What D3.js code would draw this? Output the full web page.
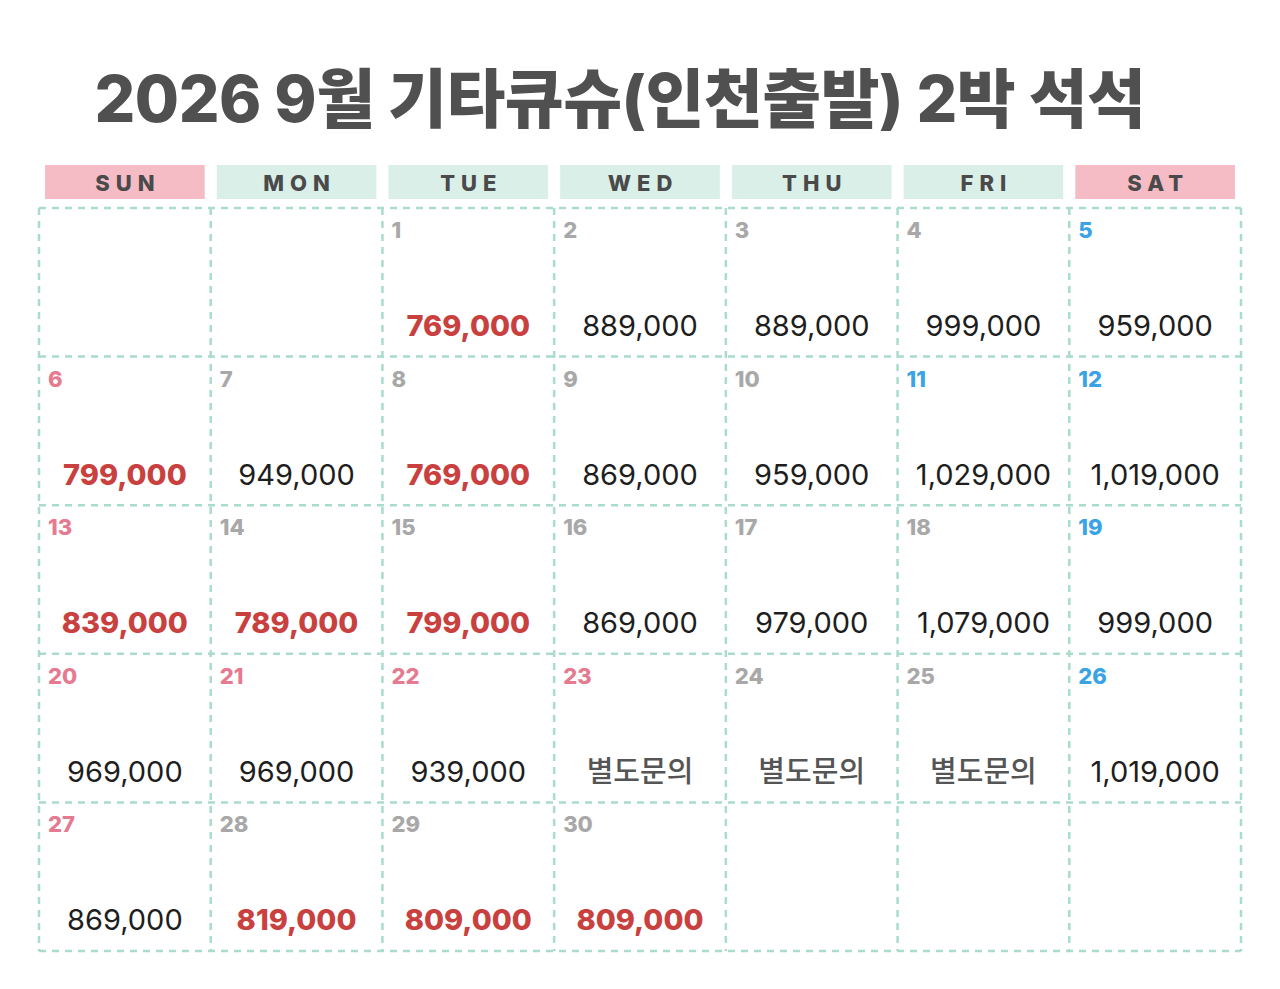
<!DOCTYPE html>
<html><head><meta charset="utf-8">
<script src="https://cdn.jsdelivr.net/npm/d3@7"></script>
<style>body{margin:0;background:#fff}</style>
</head><body><svg width="1280" height="989"></svg>
<script>
const title = '2026 9월 기타큐슈(인천출발) 2박 석석';
const weekdays = ['SUN','MON','TUE','WED','THU','FRI','SAT'];
const firstWeekday = 2;
const days = d3.range(1, 31);
// price text per day (1..30)
const prices = ['769,000','889,000','889,000','999,000','959,000',
  '799,000','949,000','769,000','869,000','959,000','1,029,000','1,019,000',
  '839,000','789,000','799,000','869,000','979,000','1,079,000','999,000',
  '969,000','969,000','939,000','별도문의','별도문의','별도문의','1,019,000',
  '869,000','819,000','809,000','809,000'];
const redDays = [1,6,8,13,14,15,28,29,30];
const pinkNums = [6,13,20,21,22,23,27];
const blueNums = [5,11,12,19,26];

const svg = d3.select('svg');
const x = d3.scaleBand().domain(d3.range(7)).range([39, 1241]);
const y = d3.scaleBand().domain(d3.range(5)).range([208, 951]);
const grid = '#a9dccb';

svg.append('text').attr('x', 620).attr('y', 122).attr('text-anchor', 'middle')
  .attr('font-family', 'Inter, Roboto, "Noto Sans CJK KR"').attr('font-weight', 800)
  .attr('font-size', 64).attr('fill', '#505050').attr('letter-spacing', -0.5).text(title);

const head = svg.append('g');
head.selectAll('rect').data(weekdays).join('rect')
  .attr('x', (d, i) => x(i) + 6).attr('y', 165)
  .attr('width', x.bandwidth() - 12).attr('height', 34)
  .attr('fill', (d, i) => (i === 0 || i === 6) ? '#f5bcc6' : '#d9efe8');
head.selectAll('text').data(weekdays).join('text')
  .attr('x', (d, i) => x(i) + x.bandwidth() / 2 + 3).attr('y', 191)
  .attr('text-anchor', 'middle').attr('font-family', 'Inter, sans-serif')
  .attr('font-weight', 800).attr('font-size', 22).attr('letter-spacing', 6)
  .attr('fill', '#4a4a4a').text(d => d);

// dashed grid
const g = svg.append('g').attr('stroke', grid).attr('stroke-width', 2.5)
  .attr('stroke-dasharray', '7,6');
d3.range(8).forEach(i => {
  const xx = i < 7 ? x(i) : x.range()[1];
  g.append('line').attr('x1', xx).attr('x2', xx).attr('y1', 208).attr('y2', 951);
});
d3.range(6).forEach(j => {
  const yy = j < 5 ? y(j) : y.range()[1];
  g.append('line').attr('x1', 39).attr('x2', 1241).attr('y1', yy).attr('y2', yy);
});

const cells = svg.append('g').selectAll('g').data(days).join('g')
  .attr('transform', d => {
    const k = d - 1 + firstWeekday;
    return `translate(${x(k % 7)},${y(Math.floor(k / 7))})`;
  });
cells.append('text').attr('x', 9).attr('y', 30)
  .attr('font-family', 'Inter, sans-serif').attr('font-weight', 800).attr('font-size', 22)
  .attr('fill', d => pinkNums.includes(d) ? '#e57a90' : blueNums.includes(d) ? '#3aa3e6' : '#a8a8a8')
  .text(d => d);
cells.append('text').attr('x', x.bandwidth() / 2).attr('y', 128)
  .attr('text-anchor', 'middle').attr('font-family', 'Inter, "Noto Sans CJK KR", sans-serif')
  .attr('font-size', 29)
  .attr('font-weight', d => redDays.includes(d) ? 800 : prices[d - 1].includes(',') ? 400 : 500)
  .attr('fill', d => redDays.includes(d) ? '#c9413f' : prices[d - 1].includes(',') ? '#1e1e1e' : '#555')
  .text(d => prices[d - 1]);
</script></body></html>
